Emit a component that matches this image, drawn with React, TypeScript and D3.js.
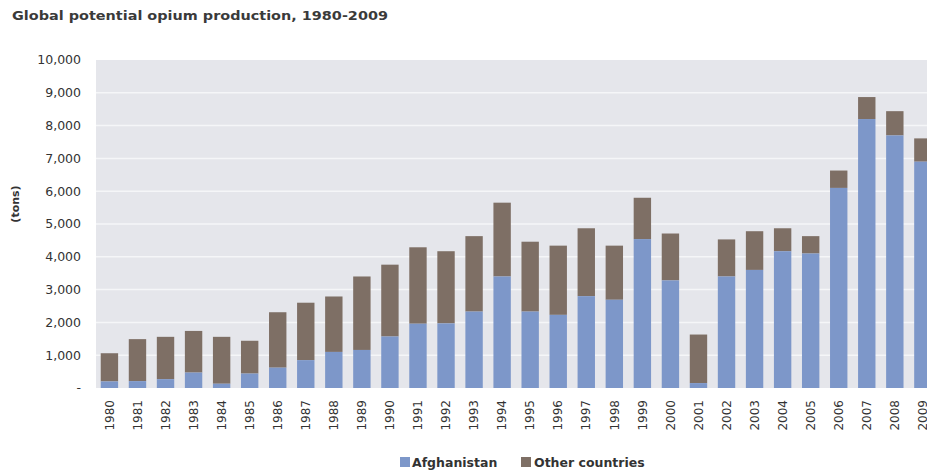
import React from "react";
import * as d3 from "d3";

const years = [
  "1980","1981","1982","1983","1984","1985","1986","1987","1988","1989",
  "1990","1991","1992","1993","1994","1995","1996","1997","1998","1999",
  "2000","2001","2002","2003","2004","2005","2006","2007","2008","2009",
];
const afghanistan = [
  200, 210, 270, 470, 130, 440, 620, 850, 1100, 1160,
  1570, 1960, 1970, 2330, 3400, 2330, 2230, 2800, 2690, 4540,
  3280, 150, 3400, 3600, 4170, 4100, 6100, 8200, 7700, 6900,
];
const total = [
  1060, 1490, 1560, 1740, 1560, 1440, 2310, 2600, 2790, 3400,
  3760, 4290, 4170, 4630, 5650, 4460, 4340, 4870, 4340, 5800,
  4710, 1630, 4530, 4780, 4870, 4630, 6630, 8870, 8440, 7610,
];
const yTicks = [0, 1000, 2000, 3000, 4000, 5000, 6000, 7000, 8000, 9000, 10000];
const seriesNames = ["Afghanistan", "Other countries"];
const colors = ["#7d97c9", "#7e6f65"];

const W = 927;
const H = 471;
const plotTop = 60;
const plotBottom = 388;
const plotLeft = 96;

export default function App() {
  const x = d3
    .scaleBand<string>()
    .domain(years)
    .range([95.4, 95.4 + 30 * 28.05])
    .paddingInner(0.38)
    .paddingOuter(0.19);
  const y = d3.scaleLinear().domain([0, 10000]).range([plotBottom, plotTop]);
  const fmt = d3.format(",");
  const font = "'DejaVu Sans', Verdana, sans-serif";

  return (
    <svg
      width={W}
      height={H}
      style={{ position: "absolute", left: 0, top: 0, background: "#fff" }}
      fontFamily={font}
    >
      <text
        x={12}
        y={20}
        fontSize={13}
        fontWeight="bold"
        fill="#3a3a3a"
        textLength={376}
        lengthAdjust="spacingAndGlyphs"
      >
        Global potential opium production, 1980-2009
      </text>
      <rect
        x={plotLeft}
        y={plotTop}
        width={W - plotLeft}
        height={plotBottom - plotTop}
        fill="#e5e6eb"
      />
      {yTicks.slice(1, -1).map((t) => (
        <line
          key={t}
          x1={plotLeft}
          x2={W}
          y1={y(t)}
          y2={y(t)}
          stroke="#f5f6f8"
          strokeWidth={1.5}
        />
      ))}
      {yTicks.map((t) => (
        <text
          key={t}
          x={81}
          y={y(t)}
          dy="0.35em"
          textAnchor="end"
          fontSize={12.5}
          fill="#333"
        >
          {t === 0 ? "-" : fmt(t)}
        </text>
      ))}
      <text
        transform={`translate(19, 204) rotate(-90)`}
        textAnchor="middle"
        fontSize={11}
        fontWeight="bold"
        fill="#333"
      >
        (tons)
      </text>
      {years.map((yr, i) => {
        const bx = x(yr)!;
        const bw = x.bandwidth();
        return (
          <g key={yr}>
            <rect
              x={bx}
              width={bw}
              y={y(total[i])}
              height={y(afghanistan[i]) - y(total[i])}
              fill={colors[1]}
            />
            <rect
              x={bx}
              width={bw}
              y={y(afghanistan[i])}
              height={plotBottom - y(afghanistan[i])}
              fill={colors[0]}
            />
            <text
              transform={`translate(${bx + bw / 2}, 400) rotate(-90)`}
              textAnchor="end"
              dy="0.35em"
              fontSize={12}
              fill="#333"
            >
              {yr}
            </text>
          </g>
        );
      })}
      <g>
        <rect x={400} y={457} width={10} height={10} fill={colors[0]} />
        <text x={412} y={467} fontSize={12.5} fontWeight="bold" fill="#333">
          {seriesNames[0]}
        </text>
        <rect x={521} y={457} width={10} height={10} fill={colors[1]} />
        <text x={534} y={467} fontSize={12.5} fontWeight="bold" fill="#333">
          {seriesNames[1]}
        </text>
      </g>
    </svg>
  );
}
